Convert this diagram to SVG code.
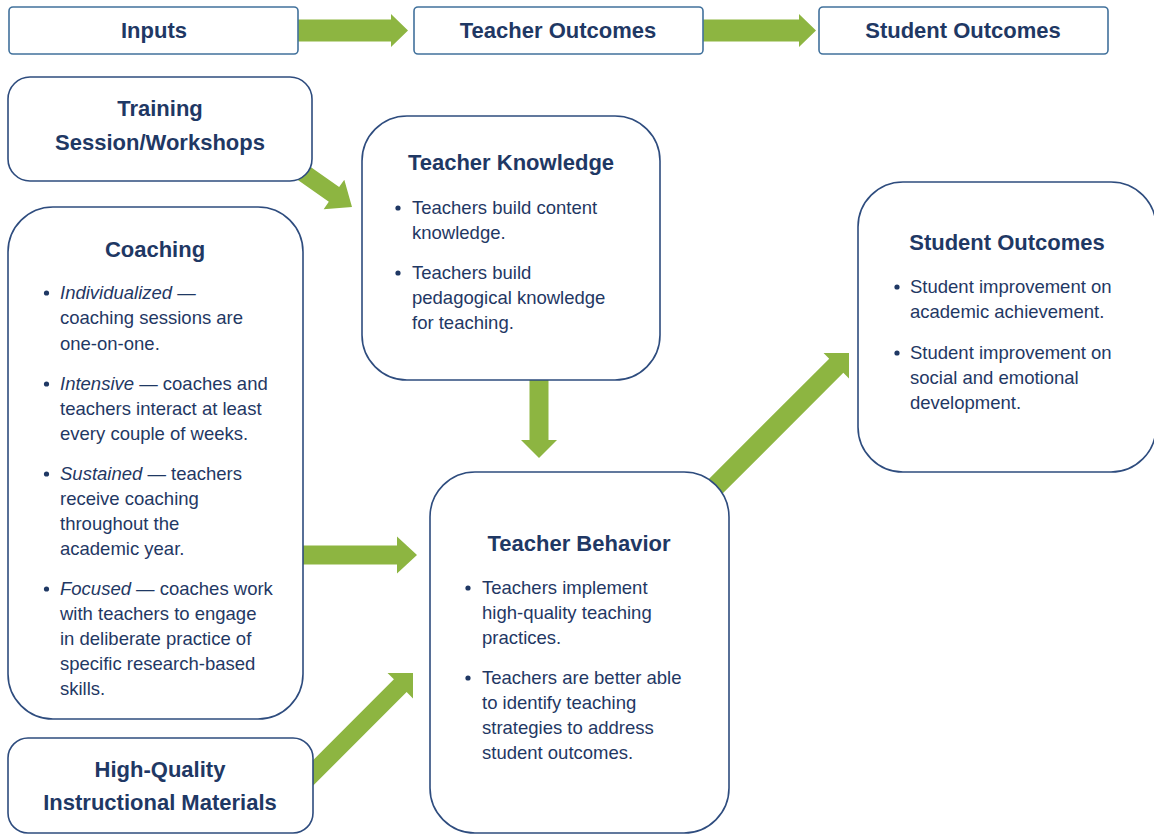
<svg xmlns="http://www.w3.org/2000/svg" width="1154" height="835" viewBox="0 0 1154 835">
<style>
.top{fill:#fff;stroke:#41719C;stroke-width:1.6}
.box{fill:#fff;stroke:#2E4C7E;stroke-width:1.6}
.arrow{fill:#8DB541}
text{font-family:"Liberation Sans",Arial,sans-serif;fill:#1F3864}
.h{font-size:22px;font-weight:bold;text-anchor:middle}
.b{font-size:18.5px}
.i{font-style:italic}
.dot{fill:#1F3864}
</style>
<rect width="1154" height="835" fill="#fff"/>
<g id="connectors">
<polygon class="arrow" points="297,19.5 391,19.5 391,14 408,30.5 391,47 391,41.5 297,41.5"/>
<polygon class="arrow" points="702,19.5 799,19.5 799,14 816,30.5 799,47 799,41.5 702,41.5"/>
<polygon class="arrow" transform="translate(352,207) rotate(35)" points="-62,-9 -22,-9 -22,-18 0,0 -22,18 -22,9 -62,9"/>
<polygon class="arrow" points="529.5,375 548.5,375 548.5,440 557,440 539,458 521,440 529.5,440"/>
<polygon class="arrow" points="295,545.5 397,545.5 397,536.5 417,555 397,573.5 397,564.5 295,564.5"/>
<polygon class="arrow" transform="translate(413,673) rotate(-45)" points="-160,-9 -18,-9 -18,-18 0,0 -18,18 -18,9 -160,9"/>
<polygon class="arrow" transform="translate(849,353) rotate(-45)" points="-209,-10 -18,-10 -18,-18 0,0 -18,18 -18,10 -209,10"/>
</g>
<g id="inputs-header">
<rect class="top" x="9" y="7" width="289" height="47" rx="4"/>
<text class="h" x="154" y="38">Inputs</text>
</g>
<g id="teacher-outcomes-header">
<rect class="top" x="414" y="7" width="289" height="47" rx="4"/>
<text class="h" x="558" y="38">Teacher Outcomes</text>
</g>
<g id="student-outcomes-header">
<rect class="top" x="819" y="7" width="289" height="47" rx="4"/>
<text class="h" x="963" y="38">Student Outcomes</text>
</g>
<g id="training">
<rect class="box" x="8" y="77" width="304" height="104" rx="22"/>
<text class="h" x="160" y="116">Training</text>
<text class="h" x="160" y="150">Session/Workshops</text>
</g>
<g id="coaching">
<rect class="box" x="8" y="207" width="295" height="512" rx="45"/>
<text class="h" x="155" y="257">Coaching</text>
<circle class="dot" cx="46.5" cy="293" r="2.6"/>
<text class="b" x="60" y="299"><tspan class="i">Individualized</tspan> —</text>
<text class="b" x="60" y="324">coaching sessions are</text>
<text class="b" x="60" y="350">one-on-one.</text>
<circle class="dot" cx="46.5" cy="384" r="2.6"/>
<text class="b" x="60" y="390"><tspan class="i">Intensive</tspan> — coaches and</text>
<text class="b" x="60" y="415">teachers interact at least</text>
<text class="b" x="60" y="440">every couple of weeks.</text>
<circle class="dot" cx="46.5" cy="474" r="2.6"/>
<text class="b" x="60" y="480"><tspan class="i">Sustained</tspan> — teachers</text>
<text class="b" x="60" y="505">receive coaching</text>
<text class="b" x="60" y="530">throughout the</text>
<text class="b" x="60" y="555">academic year.</text>
<circle class="dot" cx="46.5" cy="589" r="2.6"/>
<text class="b" x="60" y="595"><tspan class="i">Focused</tspan> — coaches work</text>
<text class="b" x="60" y="620">with teachers to engage</text>
<text class="b" x="60" y="645">in deliberate practice of</text>
<text class="b" x="60" y="670">specific research-based</text>
<text class="b" x="60" y="695">skills.</text>
</g>
<g id="hqim">
<rect class="box" x="8" y="738" width="305" height="95" rx="20"/>
<text class="h" x="160" y="777">High-Quality</text>
<text class="h" x="160" y="810">Instructional Materials</text>
</g>
<g id="teacher-knowledge">
<rect class="box" x="362" y="116" width="298" height="264" rx="45"/>
<text class="h" x="511" y="170">Teacher Knowledge</text>
<circle class="dot" cx="398" cy="208" r="2.6"/>
<text class="b" x="412" y="214">Teachers build content</text>
<text class="b" x="412" y="239">knowledge.</text>
<circle class="dot" cx="398" cy="273" r="2.6"/>
<text class="b" x="412" y="279">Teachers build</text>
<text class="b" x="412" y="304">pedagogical knowledge</text>
<text class="b" x="412" y="329">for teaching.</text>
</g>
<g id="teacher-behavior">
<rect class="box" x="430" y="472" width="299" height="361" rx="45"/>
<text class="h" x="579" y="551">Teacher Behavior</text>
<circle class="dot" cx="468" cy="588" r="2.6"/>
<text class="b" x="482" y="594">Teachers implement</text>
<text class="b" x="482" y="619">high-quality teaching</text>
<text class="b" x="482" y="644">practices.</text>
<circle class="dot" cx="468" cy="678" r="2.6"/>
<text class="b" x="482" y="684">Teachers are better able</text>
<text class="b" x="482" y="709">to identify teaching</text>
<text class="b" x="482" y="734">strategies to address</text>
<text class="b" x="482" y="759">student outcomes.</text>
</g>
<g id="student-outcomes">
<rect class="box" x="858" y="182" width="298" height="290" rx="45"/>
<text class="h" x="1007" y="250">Student Outcomes</text>
<circle class="dot" cx="897" cy="287" r="2.6"/>
<text class="b" x="910" y="293">Student improvement on</text>
<text class="b" x="910" y="318">academic achievement.</text>
<circle class="dot" cx="897" cy="353" r="2.6"/>
<text class="b" x="910" y="359">Student improvement on</text>
<text class="b" x="910" y="384">social and emotional</text>
<text class="b" x="910" y="409">development.</text>
</g>
</svg>
